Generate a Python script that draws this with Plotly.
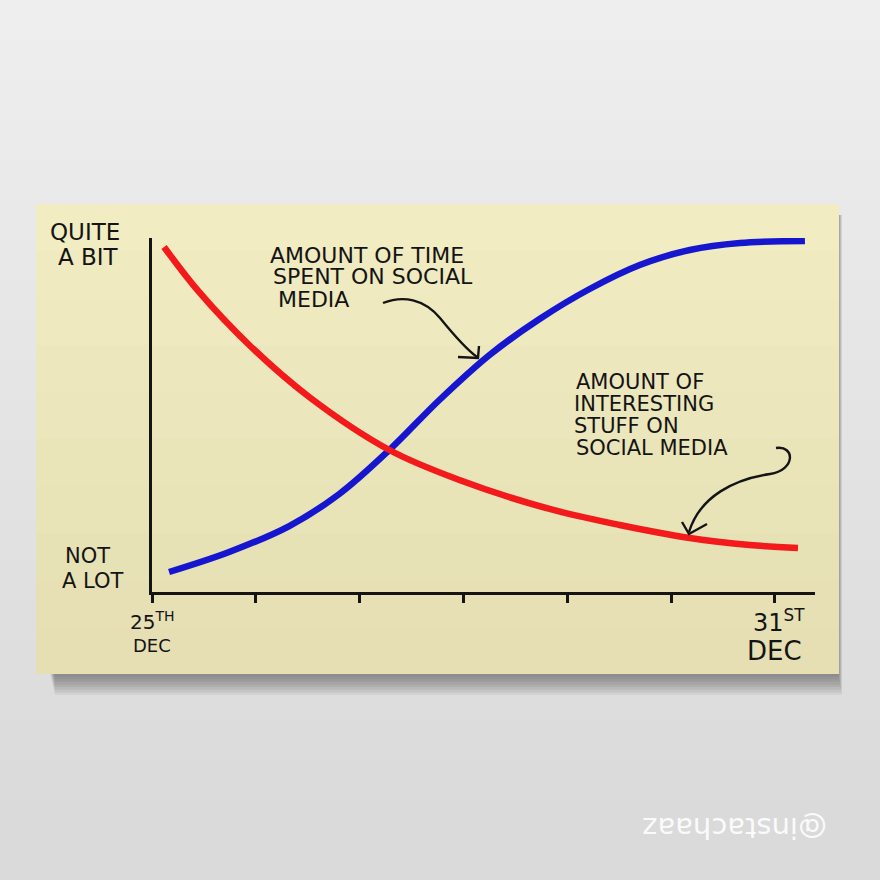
import plotly.graph_objects as go

# ---------------- data ----------------
days = [0, 1, 2, 3, 4, 5, 6]
day_labels = ["25<sup>TH</sup>", "31<sup>ST</sup>"]
month_label = "DEC"
y_labels_top = ["QUITE", "A BIT"]
y_labels_bottom = ["NOT", "A LOT"]

time_x = [0.164, 0.743, 1.322, 1.804, 2.286, 2.768, 3.251, 3.733, 4.215,
          4.698, 5.180, 5.662, 6.289]
time_y = [0.565, 1.130, 1.864, 2.768, 4.011, 5.424, 6.695, 7.712, 8.559,
          9.237, 9.661, 9.859, 9.915]

stuff_x = [0.116, 0.453, 0.936, 1.514, 2.286, 2.961, 3.829, 4.505, 5.180,
           5.759, 6.222]
stuff_y = [9.746, 8.475, 6.977, 5.508, 4.011, 3.164, 2.345, 1.893, 1.525,
           1.328, 1.243]

W = H = 880
FONT = "DejaVu Sans"
INK = "#141414"


def px(x):
    return x / W


def py(y):
    return 1 - y / H


shapes = []
# background gradient (light grey page)
nb = 22
for i in range(nb):
    t = i / (nb - 1)
    c = int(238 - 20 * t)
    shapes.append(dict(type="rect", xref="paper", yref="paper", layer="below",
                       x0=0, x1=1, y0=py((i + 1) * H / nb + 2), y1=py(i * H / nb),
                       fillcolor=f"rgb({c},{c},{c})", line=dict(width=0)))
# note shadow
for i in range(9):
    shapes.append(dict(type="rect", xref="paper", yref="paper", layer="below",
                       x0=px(50 + i * 0.6), x1=px(838 + i * 0.5),
                       y0=py(674 + i * 2.6), y1=py(215),
                       fillcolor="rgba(40,40,40,0.07)", line=dict(width=0)))
# sticky note with subtle vertical shading
nn = 10
top, bot = 204, 674
for i in range(nn):
    t = i / (nn - 1)
    r = int(241 - 12 * t); g = int(236 - 13 * t); b = int(194 - 15 * t)
    y_top = top + i * (bot - top) / nn
    y_bot = bot if i == nn - 1 else top + (i + 1) * (bot - top) / nn + 2
    shapes.append(dict(type="rect", xref="paper", yref="paper", layer="below",
                       x0=px(36), x1=px(839), y0=py(y_bot), y1=py(y_top),
                       fillcolor=f"rgb({r},{g},{b})", line=dict(width=0)))


def path_px(cmds):
    out = []
    for c in cmds:
        if isinstance(c, str):
            out.append(c)
        else:
            out.append(f"{px(c[0]):.5f},{py(c[1]):.5f}")
    return " ".join(out)


arrow_style = dict(type="path", xref="paper", yref="paper",
                   line=dict(color=INK, width=2.4))
# arrow 1 (time spent)
shapes.append(dict(arrow_style, path=path_px(
    ["M", (383, 303), "C", (403, 295), (424, 299), (440, 318),
     "C", (453, 334), (466, 349), (477, 357)])))
shapes.append(dict(arrow_style, path=path_px(
    ["M", (458, 357), "L", (478, 358), "L", (479, 346)])))
# arrow 2 (interesting stuff)
shapes.append(dict(arrow_style, path=path_px(
    ["M", (776, 448), "C", (795, 445), (796, 470), (770, 474),
     "C", (735, 479), (700, 496), (689, 532)])))
shapes.append(dict(arrow_style, path=path_px(
    ["M", (682, 522), "L", (689, 534), "L", (707, 524)])))

fig = go.Figure()
fig.add_trace(go.Scatter(x=time_x, y=time_y, mode="lines",
                         line=dict(color="#1616cf", width=6.5, shape="spline", smoothing=1.0),
                         name="Amount of time spent on social media",
                         hoverinfo="skip"))
fig.add_trace(go.Scatter(x=stuff_x, y=stuff_y, mode="lines",
                         line=dict(color="#f21a1a", width=6.5, shape="spline", smoothing=1.0),
                         name="Amount of interesting stuff on social media",
                         hoverinfo="skip"))

annotations = []


def txt(text, x, y, size, xanchor="center", color=INK, angle=0, font=FONT, xref="paper"):
    annotations.append(dict(text=text, xref=xref, yref="paper",
                            x=(x if xref != "paper" else px(x)), y=py(y),
                            xanchor=xanchor, yanchor="middle", showarrow=False,
                            textangle=angle,
                            font=dict(family=font, size=size, color=color)))


# y-axis labels
txt(y_labels_top[0], 85, 232, 23)
txt(y_labels_top[1], 88, 257, 23)
txt(y_labels_bottom[0], 87, 556, 21)
txt(y_labels_bottom[1], 93, 581, 21)
# x-axis labels
txt(day_labels[0], days[0], 621, 20, xref="x")
txt(month_label, days[0], 645, 18, xref="x")
txt(day_labels[1], days[6] + 0.04, 621, 24, xref="x")
txt(month_label, days[6], 651, 26, xref="x")

# callout texts
txt("AMOUNT OF TIME", 268, 255, 22, xanchor="left")
txt("SPENT ON SOCIAL", 271, 277, 22, xanchor="left")
txt("MEDIA", 276, 300, 22, xanchor="left")
txt("AMOUNT OF", 574, 382, 21, xanchor="left")
txt("INTERESTING", 572, 404, 21, xanchor="left")
txt("STUFF ON", 572, 426, 21, xanchor="left")
txt("SOCIAL MEDIA", 574, 448, 21, xanchor="left")
# watermark (upside down)
txt("@instachaaz", 735, 828, 29, color="rgba(255,255,255,0.9)", angle=180)

fig.update_layout(
    width=W, height=H,
    margin=dict(l=0, r=0, t=0, b=0),
    paper_bgcolor="#e6e6e6",
    plot_bgcolor="rgba(0,0,0,0)",
    showlegend=False,
    shapes=shapes,
    annotations=annotations,
    xaxis=dict(domain=[px(152), px(815)], range=[0, 6.386],
               tickvals=days, showticklabels=False, ticks="outside", ticklen=8,
               tickwidth=2.6, tickcolor=INK,
               showline=True, linecolor=INK, linewidth=3.2,
               showgrid=False, zeroline=False, fixedrange=True),
    yaxis=dict(domain=[1 - 592 / H, 1 - 238 / H], range=[0, 10],
               showticklabels=False, ticks="",
               showline=True, linecolor=INK, linewidth=3.2,
               showgrid=False, zeroline=False, fixedrange=True),
)

fig.write_html("out.html", config={"displayModeBar": False},
               post_script="document.body.style.margin='0';document.body.style.overflow='hidden';")
